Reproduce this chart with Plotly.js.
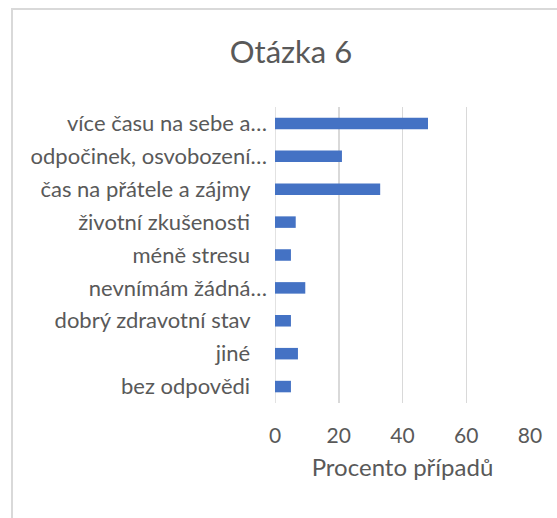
<!DOCTYPE html>
<html>
<head>
<meta charset="utf-8">
<script src="https://cdn.plot.ly/plotly-3.0.1.min.js"></script>
<style>
  html, body { margin: 0; padding: 0; background: #fff; }
  #wrap { position: relative; width: 557px; height: 518px; overflow: hidden; }
  #frame { position: absolute; left: 11px; top: 8px; width: 600px; height: 600px;
           border-left: 2px solid #d9d9d9; border-top: 2px solid #d9d9d9; }
  #chart { position: absolute; left: 0; top: 0; width: 557px; height: 518px; }
</style>
</head>
<body>
<div id="wrap">
  <div id="frame"></div>
  <div id="chart"></div>
</div>
<script>
const categories = [
  "více času na sebe a…",
  "odpočinek, osvobození…",
  "čas na přátele a zájmy",
  "životní zkušenosti",
  "méně stresu",
  "nevnímám žádná…",
  "dobrý zdravotní stav",
  "jiné",
  "bez odpovědi"
];
const values = [48, 21, 33, 6.5, 5, 9.5, 5, 7.2, 5];
const xTicks = [0, 20, 40, 60, 80];
const titleText = "Otázka 6";
const xTitle = "Procento případů";

const font = "Lato, 'Open Sans', sans-serif";
// Excel lets the ellipsis of truncated labels overhang; pad the others so the text aligns the same way
const pad = "\u00a0\u00a0\u00a0";
const tickText = categories.map(c => c.endsWith("…") ? c : c + pad);

const trace = {
  type: "bar",
  orientation: "h",
  y: categories,
  x: values,
  marker: { color: "#4472C4" },
  hoverinfo: "x+y"
};
const layout = {
  width: 557, height: 518,
  paper_bgcolor: "rgba(0,0,0,0)",
  plot_bgcolor: "rgba(0,0,0,0)",
  margin: { l: 275, r: 27, t: 107, b: 115 },
  bargap: 0.65,
  showlegend: false,
  font: { family: font, color: "#595959" },
  title: {
    text: titleText,
    font: { family: font, size: 31, color: "#595959" },
    x: 291 / 557, xref: "container", xanchor: "center",
    y: 1 - 52 / 518, yref: "container", yanchor: "middle"
  },
  xaxis: {
    range: [0, 80],
    tickvals: xTicks,
    ticktext: xTicks.map(String),
    showgrid: true,
    gridcolor: "#d9d9d9",
    gridwidth: 1.5,
    zeroline: false,
    showline: false,
    tickfont: { size: 21, color: "#595959" },
    ticks: "",
    ticklabelstandoff: 18,
    title: { text: xTitle, font: { size: 24, color: "#595959" }, standoff: 13 },
    fixedrange: true
  },
  yaxis: {
    autorange: "reversed",
    type: "category",
    tickvals: categories,
    ticktext: tickText,
    showgrid: false,
    zeroline: false,
    showline: false,
    ticks: "",
    ticklabelstandoff: 7,
    tickfont: { size: 22, color: "#595959" },
    fixedrange: true
  },
  shapes: [{
    type: "line", xref: "x", yref: "paper",
    x0: 0, x1: 0, y0: 0, y1: 1,
    line: { color: "#d9d9d9", width: 1.5 },
    layer: "below"
  }]
};
Plotly.newPlot("chart", [trace], layout, { displayModeBar: false, staticPlot: true });
</script>
</body>
</html>
